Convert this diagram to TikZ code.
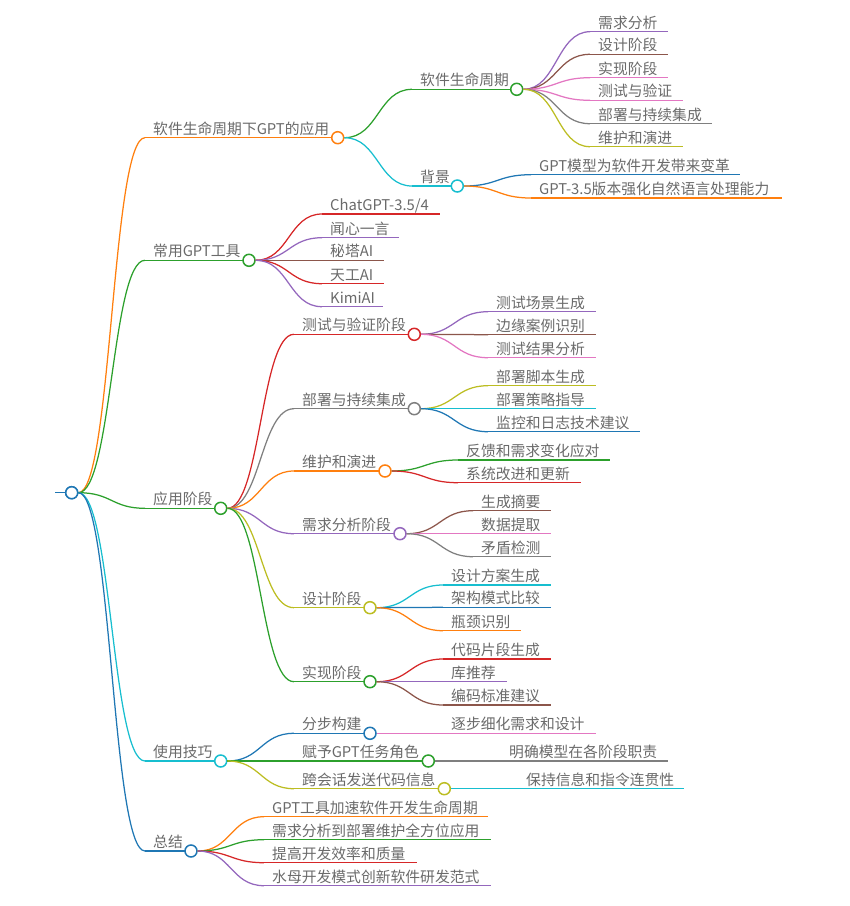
\documentclass[tikz,border=0pt]{standalone}
\usepackage{fontspec}
\setmainfont{Noto Sans CJK SC}
\usetikzlibrary{calc}
\definecolor{cblue}{HTML}{1F77B4}
\definecolor{corange}{HTML}{FF7F0E}
\definecolor{cgreen}{HTML}{2CA02C}
\definecolor{cred}{HTML}{D62728}
\definecolor{cpurple}{HTML}{9467BD}
\definecolor{cbrown}{HTML}{8C564B}
\definecolor{cpink}{HTML}{E377C2}
\definecolor{cgray}{HTML}{7F7F7F}
\definecolor{colive}{HTML}{BCBD22}
\definecolor{ccyan}{HTML}{17BECF}
\definecolor{txtgray}{HTML}{6A6A6A}
\tikzset{
 lbl/.style={anchor=base west, inner sep=0pt, text=txtgray, font=\fontsize{14.8}{16}\selectfont},
 ln/.style={line width=1.25pt},
 dot/.style={circle, draw, line width=1.5pt, fill=white, minimum size=12pt, inner sep=0pt},
}
\newcommand\mmlink[3]{\draw[ln,#1] let \p1=(#2), \p2=(#3) in (\p1) .. controls ({0.5*\x1+0.5*\x2},\y1) and ({0.5*\x1+0.5*\x2},\y2) .. (\p2);}
\newcommand\mmtopic[7]{%
 \coordinate (#1-s) at (#3,#4);
 \node[lbl] (#1) at (#3+8,#4-3.5) {#5};
 \mmlink{#2}{#7-c.east}{#1-s}
 \draw[ln,#2] (#1-s) -- (#6-6,#4);
 \node[dot,draw=#2] (#1-c) at (#6,#4) {};
}
\newcommand\mmleaf[7]{%
 \coordinate (#1-s) at (#3,#4);
 \coordinate (#1-e) at (#6,#4);
 \node[lbl] (#1) at (#3+8,#4-3.5) {#5};
 \mmlink{#2}{#7-c.east}{#1-s}
 \draw[ln,#2] (#1-s) -- (#1-e);
}
\begin{document}
\begin{tikzpicture}[x=1pt,y=-1pt]
\useasboundingbox (0,0) rectangle (850,906);
% root
\coordinate (stub) at (55,492.7);
\draw[ln,cblue] (stub) -- (66,492.7);
\node[dot,draw=cblue] (root-c) at (71.7,492.7) {};
% level 1
\mmtopic{la}{corange}{145}{137.7}{软件生命周期下GPT的应用}{337.7}{root}
\mmtopic{lb}{cgreen}{145}{260.3}{常用GPT工具}{249}{root}
\mmtopic{lc}{cgreen}{145}{508.3}{应用阶段}{220.7}{root}
\mmtopic{ld}{ccyan}{145}{761}{使用技巧}{220.7}{root}
\mmtopic{le}{cblue}{145}{851}{总结}{191}{root}
% under la
\mmtopic{a1}{cgreen}{412}{89.3}{软件生命周期}{516.7}{la}
\mmtopic{a2}{ccyan}{412}{186}{背景}{457.3}{la}
\mmleaf{a11}{cpurple}{590}{31.7}{需求分析}{667.7}{a1}
\mmleaf{a12}{cbrown}{590}{54.3}{设计阶段}{667.7}{a1}
\mmleaf{a13}{cpink}{590}{77.7}{实现阶段}{667.7}{a1}
\mmleaf{a14}{cpink}{590}{100.3}{测试与验证}{682.7}{a1}
\mmleaf{a15}{cgray}{590}{123.7}{部署与持续集成}{711.7}{a1}
\mmleaf{a16}{colive}{590}{146.7}{维护和演进}{682.7}{a1}
\mmleaf{a21}{cblue}{531}{174.7}{GPT模型为软件开发带来变革}{740}{a2}
\mmleaf{a22}{corange}{531}{198}{GPT-3.5版本强化自然语言处理能力}{781.7}{a2}
% under lb
\mmleaf{b1}{cred}{322}{214}{ChatGPT-3.5/4}{440}{lb}
\mmleaf{b2}{cpurple}{322}{237.7}{闻心一言}{399.3}{lb}
\mmleaf{b3}{cbrown}{322}{260.3}{秘塔AI}{384}{lb}
\mmleaf{b4}{cred}{322}{283.7}{天工AI}{384}{lb}
\mmleaf{b5}{cpurple}{322}{306.7}{KimiAI}{383}{lb}
% under lc
\mmtopic{c1}{cred}{294}{334.3}{测试与验证阶段}{414.3}{lc}
\mmtopic{c2}{cgray}{294}{408.7}{部署与持续集成}{414.3}{lc}
\mmtopic{c3}{corange}{294}{471}{维护和演进}{385}{lc}
\mmtopic{c4}{cpurple}{294}{533.7}{需求分析阶段}{400}{lc}
\mmtopic{c5}{colive}{294}{607.7}{设计阶段}{370}{lc}
\mmtopic{c6}{cgreen}{294}{681.7}{实现阶段}{370}{lc}
\mmleaf{c11}{cpurple}{488}{311.7}{测试场景生成}{595.7}{c1}
\mmleaf{c12}{cbrown}{488}{334.7}{边缘案例识别}{595.7}{c1}
\mmleaf{c13}{cpink}{488}{357.7}{测试结果分析}{595.7}{c1}
\mmleaf{c21}{colive}{488}{385.7}{部署脚本生成}{595.7}{c2}
\mmleaf{c22}{ccyan}{488}{408.7}{部署策略指导}{595.7}{c2}
\mmleaf{c23}{cblue}{488}{431.7}{监控和日志技术建议}{640}{c2}
\mmleaf{c31}{cgreen}{458}{460}{反馈和需求变化应对}{610}{c3}
\mmleaf{c32}{cred}{458}{482.7}{系统改进和更新}{580.7}{c3}
\mmleaf{c41}{cbrown}{473}{510.7}{生成摘要}{551}{c4}
\mmleaf{c42}{cpink}{473}{533.7}{数据提取}{551}{c4}
\mmleaf{c43}{cgray}{473}{556.7}{矛盾检测}{551}{c4}
\mmleaf{c51}{ccyan}{443}{585}{设计方案生成}{551}{c5}
\mmleaf{c52}{cblue}{443}{607.3}{架构模式比较}{551}{c5}
\mmleaf{c53}{corange}{443}{630.7}{瓶颈识别}{521}{c5}
\mmleaf{c61}{cred}{443}{659}{代码片段生成}{551}{c6}
\mmleaf{c62}{cpurple}{443}{681.7}{库推荐}{506.7}{c6}
\mmleaf{c63}{cbrown}{443}{705}{编码标准建议}{551}{c6}
% under ld
\mmtopic{d1}{cblue}{294}{733.3}{分步构建}{370}{ld}
\mmtopic{d2}{cgreen}{294}{761}{赋予GPT任务角色}{428.3}{ld}
\mmtopic{d3}{colive}{294}{788.7}{跨会话发送代码信息}{444.3}{ld}
\mmleaf{d11}{cpink}{443}{733.3}{逐步细化需求和设计}{595.7}{d1}
\mmleaf{d21}{cgray}{501}{761}{明确模型在各阶段职责}{667.7}{d2}
\mmleaf{d31}{ccyan}{518}{788.7}{保持信息和指令连贯性}{684.3}{d3}
% under le
\mmleaf{e1}{corange}{264}{816.7}{GPT工具加速软件开发生命周期}{488.3}{le}
\mmleaf{e2}{cgreen}{264}{839.7}{需求分析到部署维护全方位应用}{490.7}{le}
\mmleaf{e3}{cred}{264}{862.7}{提高开发效率和质量}{416.7}{le}
\mmleaf{e4}{cpurple}{264}{885.7}{水母开发模式创新软件研发范式}{490.7}{le}
% redraw root circle on top
\node[dot,draw=cblue] at (root-c) {};
\end{tikzpicture}
\end{document}
